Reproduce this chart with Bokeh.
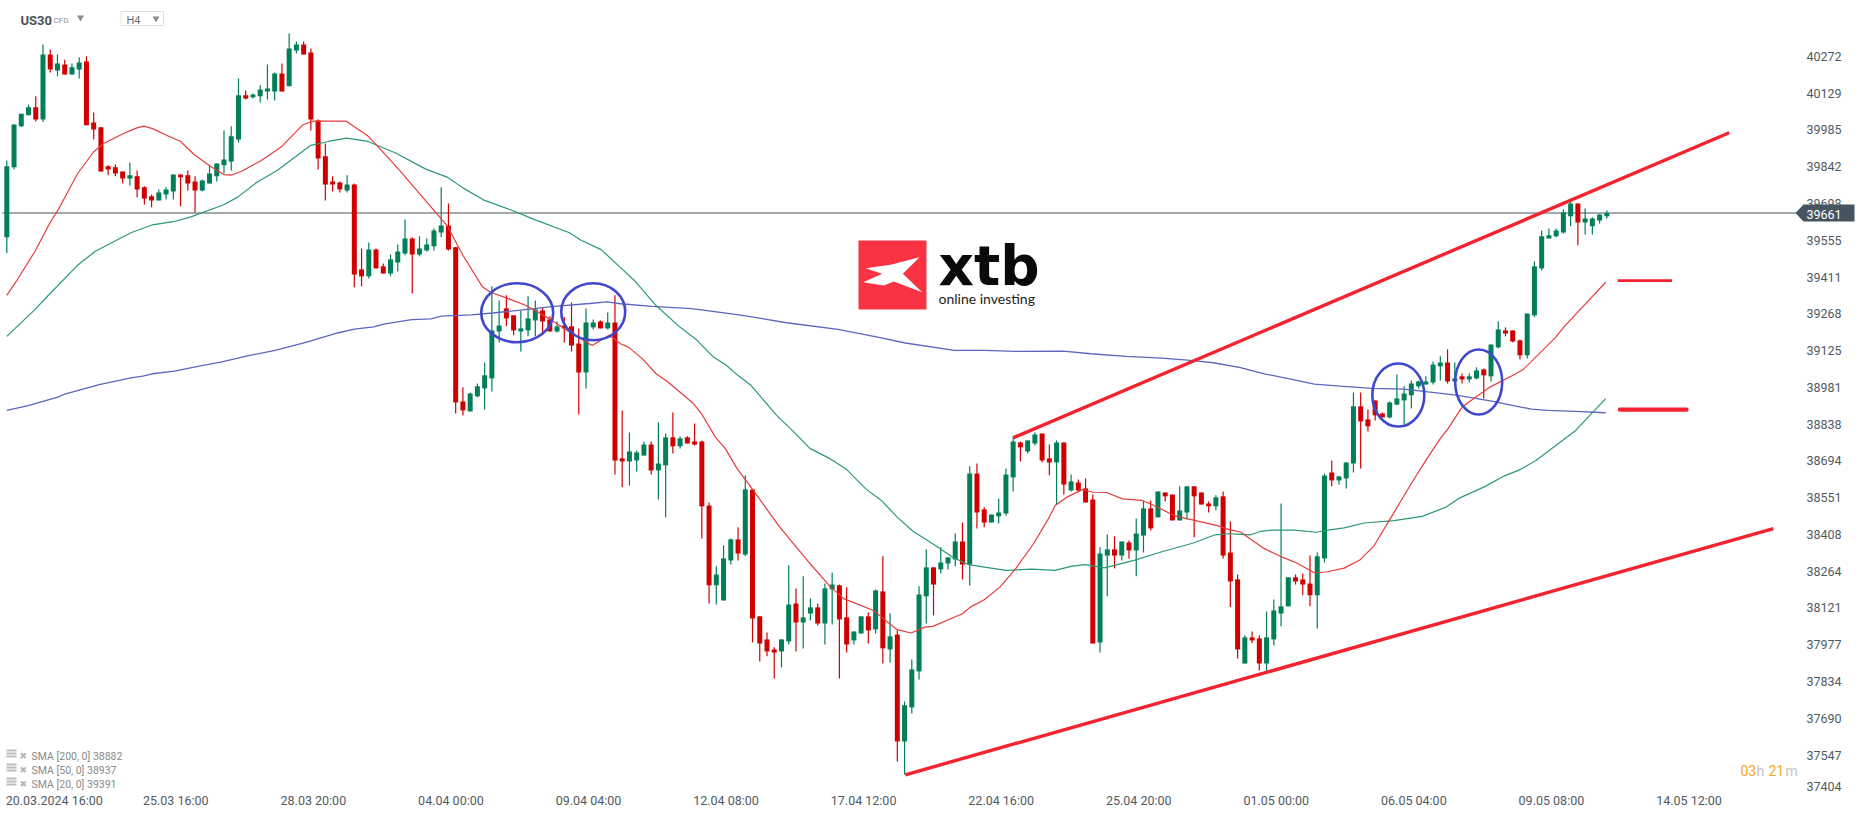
from bokeh.plotting import figure
from bokeh.models import Label, FixedTicker, LinearAxis, Range1d
from bokeh.embed import file_html
from bokeh.resources import INLINE

opens = [39566,39839,39999,40042,40073,40026,40279,40217,40240,40201,40221,40252,40014,39995,39843,39839,39823,39796,39804,39761,39726,39710,39733,39745,39811,39808,39784,39749,39776,39804,
39847,39862,39948,40120,40112,40116,40135,40135,40205,40155,40295,40318,40287,40022,39882,39784,39780,39749,39772,39441,39414,39519,39453,39425,39468,39503,39562,39499,39515,39531,
39585,39612,39527,38926,38887,38946,38977,39016,39199,39289,39262,39199,39203,39242,39281,39246,39199,39222,39219,39152,39039,39215,39238,39211,39234,38704,38692,38696,38715,38758,
38657,38677,38786,38751,38786,38770,38770,38520,38209,38150,38306,38388,38329,38583,38088,37998,37959,37951,37990,38138,38064,38099,38123,38060,38193,38209,38084,37994,38021,38088,
38037,38185,37959,38017,37600,37733,37873,38166,38279,38271,38294,38310,38380,38290,38645,38505,38454,38478,38489,38630,38766,38731,38762,38801,38704,38688,38766,38579,38610,38587,
38544,37986,38325,38349,38325,38376,38345,38403,38509,38474,38571,38563,38462,38493,38595,38571,38528,38517,38556,38337,38232,37904,38006,38002,37904,37998,38099,38127,38240,38232,
38216,38170,38314,38649,38618,38626,38684,38907,38856,38930,38879,38864,38914,38930,38950,38985,38992,39000,39063,39078,39004,39024,39012,39016,39051,39024,39137,39203,39203,39164,
39106,39262,39445,39562,39570,39585,39648,39698,39624,39609,39632,39648]
highs = [39866,40006,40048,40084,40116,40318,40299,40279,40259,40244,40268,40272,40053,39995,39847,39850,39823,39858,39827,39765,39733,39753,39761,39811,39811,39827,39804,39792,39847,39854,
39983,39999,40186,40139,40127,40159,40240,40209,40244,40361,40330,40330,40303,40026,39932,39804,39784,39808,39776,39523,39546,39523,39464,39499,39538,39636,39566,39570,39562,39601,
39761,39698,39527,38981,38961,38996,39078,39375,39320,39340,39262,39281,39336,39320,39293,39258,39238,39255,39312,39211,39289,39246,39242,39273,39340,38891,38805,38735,38770,38770,
38844,38801,38883,38790,38790,38840,38774,38532,38283,38365,38392,38435,38638,38583,38088,38025,37967,37998,38287,38197,38244,38158,38138,38216,38259,38212,38201,38029,38088,38103,
38193,38322,38099,38033,37756,37920,38205,38349,38279,38357,38318,38411,38454,38673,38684,38513,38485,38548,38665,38790,38770,38774,38805,38801,38758,38774,38766,38641,38622,38626,
38563,38357,38407,38400,38380,38384,38470,38540,38540,38575,38571,38563,38595,38595,38595,38571,38536,38560,38575,38458,38251,38014,38029,38014,38107,38154,38528,38240,38251,38255,
38325,38337,38645,38696,38634,38688,38961,38961,38895,38930,38883,38926,39031,38985,39008,39008,39024,39082,39102,39129,39078,39035,39035,39059,39055,39148,39238,39215,39203,39168,
39269,39472,39593,39601,39601,39675,39718,39698,39679,39644,39655,39671]
lows = [39505,39832,39996,40042,40018,40016,40209,40194,40201,40201,40186,40003,39948,39823,39808,39804,39776,39768,39722,39694,39683,39710,39714,39714,39687,39749,39663,39745,39776,39784,
39815,39827,39936,40104,40108,40092,40104,40100,40135,40155,40283,40279,39983,39831,39710,39745,39741,39741,39371,39375,39406,39445,39425,39414,39433,39496,39347,39492,39511,39515,
39566,39515,38879,38871,38887,38942,38895,38965,39156,39219,39184,39121,39180,39180,39195,39199,39195,39156,39121,38875,38977,39207,39211,39207,38641,38591,38598,38653,38715,38641,
38544,38474,38723,38743,38762,38754,38392,38138,38134,38150,38290,38306,38322,37986,37912,37932,37846,37889,37978,37951,37963,38072,38052,37978,38056,37846,37947,37978,38021,37982,
38021,37904,37908,37522,37471,37709,37842,38060,38092,38255,38271,38283,38232,38208,38431,38435,38454,38450,38481,38575,38692,38723,38754,38688,38638,38524,38563,38575,38575,38532,
37982,37947,38166,38275,38306,38314,38244,38337,38423,38474,38536,38462,38462,38466,38396,38524,38493,38501,38314,38123,37924,37904,37984,37877,37873,37974,38049,38127,38212,38170,
38127,38041,38298,38595,38602,38587,38649,38665,38809,38852,38864,38860,38911,38836,38899,38977,38992,38992,39008,38996,39004,38996,39000,39012,38938,39004,39133,39180,39156,39090,
39094,39254,39437,39562,39566,39581,39609,39535,39577,39577,39620,39640]
closes = [39843,40006,40048,40073,40026,40279,40221,40244,40201,40229,40248,40003,39987,39823,39831,39815,39796,39808,39753,39718,39710,39741,39753,39811,39800,39776,39749,39788,39815,39854,
39870,39960,40120,40108,40123,40143,40147,40205,40135,40303,40318,40279,40026,39874,39772,39772,39753,39772,39421,39414,39519,39445,39425,39480,39511,39562,39499,39523,39538,39593,
39612,39519,38922,38891,38957,38985,39028,39203,39222,39250,39203,39211,39250,39285,39238,39199,39219,39211,39144,39039,39234,39234,39211,39234,38696,38692,38731,38727,38758,38657,
38684,38786,38751,38782,38762,38758,38517,38209,38251,38314,38388,38333,38583,38080,37982,37951,37947,37998,38134,38064,38084,38123,38060,38197,38212,38076,37978,38029,38088,38033,
38189,37963,38010,37600,37741,37881,38173,38279,38212,38298,38318,38380,38290,38645,38493,38454,38485,38493,38641,38770,38747,38774,38797,38696,38688,38766,38602,38614,38579,38532,
37982,38333,38349,38325,38380,38345,38411,38509,38431,38575,38556,38462,38501,38595,38556,38524,38517,38552,38325,38224,37959,38006,37994,37904,38006,38111,38127,38240,38224,38212,
38170,38322,38637,38618,38634,38688,38907,38848,38829,38872,38864,38922,38938,38957,38996,39004,39004,39070,39078,39004,39016,39012,39024,39047,39028,39148,39207,39191,39160,39106,
39269,39453,39570,39574,39593,39663,39698,39624,39640,39640,39655,39661]

sma20_idx = [0,1.3,3.9,5.95,7.04,9.77,11.95,13.3,16.05,17.96,18.94,20.14,22.05,23.96,25.87,28.06,29.97,31.06,32.42,35.15,37.88,40.88,42.25,46.89,49.89,51.53,54.26,57.81,60.81,63,65.72,
66.81,69,71.73,75,77.73,80.84,83.2,84.77,85.86,87.77,89.68,91.32,94.87,95.96,97.87,99.24,100.87,102.78,106.6,110.97,113.7,115.6,119.7,121.07,122.98,124.89,126.8,127.9,132,133.08,135,137.17,139.35,141.81,144,
144.8,146.45,148.63,150,151.9,154.1,156.8,158.46,161.2,164.5,167.2,168.83,170.4,172.05,173.7,175.9,178.1,180.6,182.25,184.73,186.94,188.87,191.07,194.1,196,197.96,199.07,201,204.85,208.44,209.54,213.95,215.05,220.84]
sma20_val = [39340,39394,39512,39622,39671,39814,39898,39931,39970,39993,40000,39990,39964,39941,39889,39844,39811,39809,39824,39866,39918,40005,40019,40019,39961,39912,39827,39710,39612,39496,39372,
39352,39330,39300,39248,39197,39144,39184,39151,39138,39093,39034,39002,38917,38878,38787,38742,38664,38592,38442,38293,38205,38157,38111,38079,38036,38023,38046,38049,38098,38124,38153,38202,38274,38371,38475,
38520,38553,38583,38572,38571,38546,38540,38520,38481,38459,38442,38426,38417,38384,38352,38322,38297,38258,38261,38276,38309,38364,38468,38611,38696,38780,38820,38904,38982,39034,39053,39177,39216,39391]

sma50_idx = [0,3.77,5.95,9.77,12.23,14.68,17.14,20.14,23.14,25.33,29.97,31.88,34.6,37.34,41.98,44.43,46.89,49.89,53.71,57.8,60.81,63,66,70.09,72.82,77.73,79.37,82.1,84.7,86.68,89.68,92.96,95.14,97.6,99.24,101.15,102.78,106.33,108.24,110.97,113.7,115.88,118.6,120.8,122.98,125.16,127.9,130.6,132.8,138,141.54,144.8,147,148.9,151.64,155.7,159.3,163.9,166.9,168.83,170.4,171.8,173.16,174.8,177.84,180.87,182.25,184.73,187.5,191.6,195.5,198.8,200.7,204,206.8,209,211.2,216.7,220.84]
sma50_val = [39180,39281,39346,39457,39512,39548,39584,39615,39628,39645,39693,39723,39782,39827,39925,39940,39953,39940,39895,39833,39801,39759,39710,39668,39636,39584,39554,39518,39450,39398,39300,39216,39170,39099,39070,39024,38989,38872,38820,38742,38703,38664,38586,38540,38475,38420,38371,38319,38290,38267,38272,38267,38283,38290,38277,38306,38338,38374,38406,38410,38408,38406,38419,38424,38424,38416,38423,38433,38452,38461,38478,38514,38550,38592,38635,38660,38696,38813,38937]

sma200_idx = [0,2.95,7.04,8.13,12.77,17.14,18.77,20.14,23.14,26.42,29.7,33.24,37.06,41.43,45.8,48,50.7,52.07,55.89,58.6,60,64.1,67.1,70.63,75.6,80.5,82.9,84.77,89.14,94.6,101.15,107.7,114.8,120.8,124.1,130.9,135,139.35,145.9,149.7,154.6,159.55,163.9,166.65,170.4,173.7,177,180.6,184.2,188.6,193,196.3,200.2,205.1,207.9,210.6,212.85,216.7,220.84]
sma200_val = [38891,38910,38943,38956,38992,39018,39025,39034,39044,39063,39080,39104,39125,39157,39194,39208,39217,39228,39245,39248,39259,39264,39271,39281,39297,39308,39314,39307,39297,39288,39264,39233,39207,39174,39154,39125,39125,39121,39122,39112,39102,39095,39085,39077,39058,39034,39015,38994,38986,38977,38974,38963,38951,38927,38911,38896,38891,38887,38882]

date_labels = ["20.03.2024  16:00","25.03  16:00","28.03  20:00","04.04  00:00","09.04  04:00","12.04  08:00","17.04  12:00","22.04  16:00","25.04  20:00","01.05  00:00","06.05  04:00","09.05  08:00","14.05  12:00"]
date_bars = [0,19,38,57,76,95,114,133,152,171,190,209,228]
price_labels = [40272,40129,39985,39842,39698,39555,39411,39268,39125,38981,38838,38694,38551,38408,38264,38121,37977,37834,37690,37547]
last_price = 39661
upper_trend_idx = [139.05,237.9]
upper_trend_val = [38785,39974]
lower_trend_idx = [124.1,244]
lower_trend_val = [37470,38430]
GREEN="#007f58"; RED="#d10000"; TREND="#f5222f"; BLUE="#3f48cc"; SLATE="#45545e"; TXT="#4f5b63"

W,H=1858,807
X0,DX=6.3,7.24
Y0,DY=212.5,3.9
def xd(px): return (px-X0)/DX
def yd(py): return last_price-(py-Y0)*DY

p=figure(width=W,height=H,output_backend="svg",toolbar_location=None,
         x_range=Range1d(xd(0),xd(W)),y_range=Range1d(yd(H),yd(0)),
         min_border=0,x_axis_type=None,y_axis_type=None)
p.outline_line_color=None
p.grid.visible=False
p.background_fill_color="white"

# axes, drawn inside the frame at fixed places
centers=[b+(49 if k==0 else 33)/DX for k,b in enumerate(date_bars)]
xax=LinearAxis(ticker=FixedTicker(ticks=centers),major_label_overrides={c:l for c,l in zip(centers,date_labels)},
               fixed_location=yd(790),axis_line_color=None,major_tick_line_color=None,minor_tick_line_color=None,
               major_tick_in=0,major_tick_out=0,minor_tick_in=0,minor_tick_out=0,
               major_label_standoff=2,major_label_text_font="Roboto",major_label_text_font_size="12.5px",major_label_text_color=TXT)
p.add_layout(xax,"below")
last_tick=yd(785.7)
yax=LinearAxis(ticker=FixedTicker(ticks=price_labels+[last_tick]),major_label_overrides={last_tick:"37404",**{v:str(v) for v in price_labels}},
               fixed_location=xd(1804),axis_line_color=None,major_tick_line_color=None,minor_tick_line_color=None,
               major_tick_in=0,major_tick_out=0,minor_tick_in=0,minor_tick_out=0,
               major_label_standoff=2,major_label_text_font="Roboto",major_label_text_font_size="12.5px",major_label_text_color=TXT)
p.add_layout(yax,"right")

# logo
p.quad(left=[xd(858)],right=[xd(926)],top=[yd(240)],bottom=[yd(309)],fill_color="#f93342",line_color=None)
lz=[(75,143),(150,133),(237,110),(187,160),(245,215),(160,183),(130,195),(68,185),(125,160)]
p.patch([xd(840+a/3) for a,b in lz],[yd(220+b/3) for a,b in lz],fill_color="white",line_color=None)
def lab(px,py,t,size,color,font="Roboto",style="normal",align="left",base="middle",level="annotation"):
    l=Label(x=px,y=H-py,x_units="screen",y_units="screen",text=t,text_font=font,text_font_size=f"{size}px",
            text_color=color,text_font_style=style,text_align=align,text_baseline=base,level=level)
    p.add_layout(l)
lab(938,265,"xtb",55,"#0a0a0a","DejaVu Sans","bold")
lab(938,298,"online investing",14,"#222222","Lato")

# price line
p.line([xd(2),xd(1797)],[last_price,last_price],line_color=SLATE,line_width=1.2)

# candles
idx=list(range(len(opens)))
up=[c>=o for o,c in zip(opens,closes)]
col=[GREEN if u else RED for u in up]
p.segment(idx,lows,idx,highs,line_color=col,line_width=1.2)
p.vbar(idx,width=0.69,top=[max(o,c) for o,c in zip(opens,closes)],bottom=[min(o,c) for o,c in zip(opens,closes)],fill_color=col,line_color=None)

# moving averages
p.line(sma200_idx,sma200_val,line_color="#5c66bf",line_width=1.3)
p.line(sma50_idx,sma50_val,line_color="#2a9a74",line_width=1.2)
p.line(sma20_idx,sma20_val,line_color="#e63c3c",line_width=1.2)

# drawn annotations
p.line(upper_trend_idx,upper_trend_val,line_color=TREND,line_width=3.4)
p.line(lower_trend_idx,lower_trend_val,line_color=TREND,line_width=3.4)
p.line([222.5,230],[39397,39397],line_color=TREND,line_width=2.8)
p.line([222.8,232],[38894,38894],line_color=TREND,line_width=4.2,line_cap="round")
p.ellipse([70.5,81,192.2,203.3],[39272,39276,38951,39002],width=[72,64,52,47],height=[59,57,63,65],
          width_units="screen",height_units="screen",fill_color=None,line_color=BLUE,line_width=2.6)

# price tag
tx=[1795,1803,1854,1854,1803]; ty=[212.5,204,204,221,221]
p.patch([xd(a) for a in tx],[yd(b) for b in ty],fill_color=SLATE,line_color=None,level="overlay")
lab(1806,213.5,"39661",12.5,"white",level="overlay")

# header
lab(20,19.5,"US30",13,"#4a5359",style="bold")
lab(53,20,"CFD",8,"#8a8f94")
p.scatter([xd(80)],[yd(17)],marker="inverted_triangle",size=7,fill_color="#8a8f94",line_color=None)
p.quad(left=[xd(120.5)],right=[xd(163)],top=[yd(11)],bottom=[yd(25)],fill_color="white",line_color="#e0e0e0",line_width=1)
lab(126,20,"H4",11,"#6a7177")
p.scatter([xd(155.5)],[yd(18)],marker="inverted_triangle",size=7,fill_color="#8a8f94",line_color=None)

# indicator legend
for py,t in [(756,"SMA [200, 0] 38882"),(770,"SMA [50, 0] 38937"),(784,"SMA [20, 0] 39391")]:
    lab(31,py,t,10.5,"#8a8a8a")
    lab(19,py-1,"\u2716",9,"#b5b5b5","DejaVu Sans")
    for d in (-4,-1,2):
        p.rect([xd(11)],[yd(py-2+d)],width=10,height=1.8,width_units="screen",height_units="screen",fill_color="#bdbdbd",line_color=None)

# countdown
lab(1740,770,"03",14,"#f5a623"); lab(1756,770,"h",14,"#c4c4c4")
lab(1768,770,"21",14,"#f5a623"); lab(1785,770,"m",14,"#c4c4c4")

open("out.html","w").write(file_html(p,INLINE))
